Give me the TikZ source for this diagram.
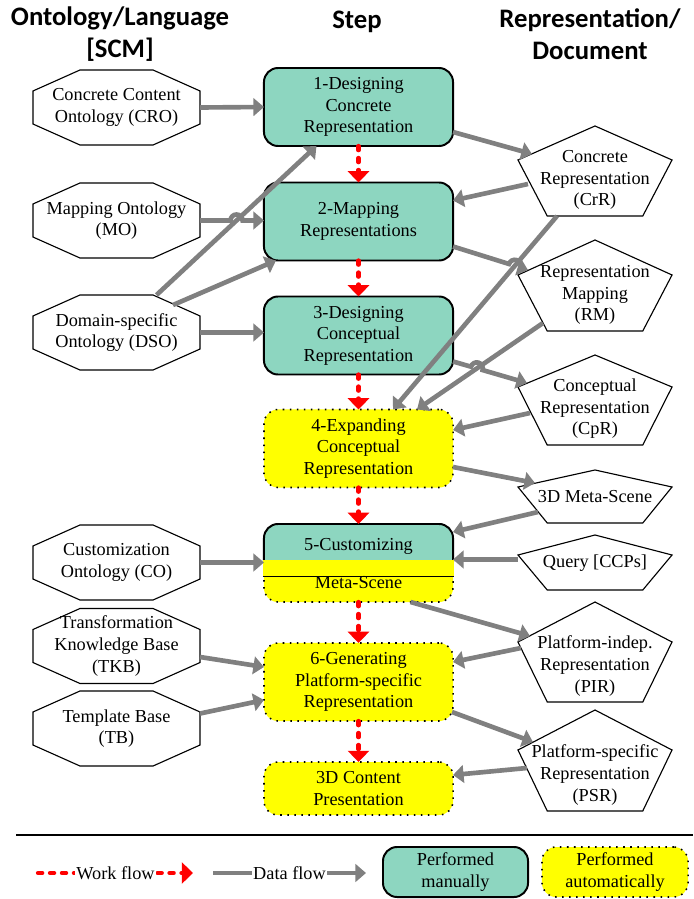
\documentclass[tikz,border=0pt]{standalone}
\usepackage{fontspec}
\setmainfont{Liberation Serif}
\newfontfamily\hdfont{Carlito}
\usepackage{tikz}
\usetikzlibrary{arrows.meta,calc}
\definecolor{mancol}{RGB}{141,214,192}
\definecolor{autcol}{RGB}{255,255,0}
\tikzstyle{hd}=[font=\hdfont\bfseries\fontsize{19}{22.8}\selectfont,align=center]
\tikzstyle{ont}=[rectangle,minimum width=4.175cm,minimum height=1.875cm,inner sep=1pt,outer sep=0pt,align=center]
\tikzstyle{doc}=[rectangle,minimum width=3.85cm,minimum height=1.8cm,inner sep=1pt,outer sep=0pt,align=center]
\tikzstyle{man}=[rectangle,rounded corners=10pt,draw=black,line width=1.4pt,fill=mancol,minimum width=4.725cm,minimum height=1.95cm,inner sep=1pt,outer sep=0pt,align=center]
\tikzstyle{aut}=[man,fill=autcol,line width=1.1pt,dash pattern=on 1.1pt off 3.9pt]
\tikzstyle{dfl}=[draw=gray,line width=3.3pt,-{Triangle[width=12.5pt,length=7.5pt]}]
\tikzstyle{wfl}=[draw=red,line width=3pt,line cap=round,dash pattern=on 3pt off 5.5pt,-{Triangle[width=15pt,length=8pt]}]
% outline of an ontology (octagon) around a node
\newcommand{\octout}[1]{\draw[line width=.8pt] ($(#1.north west)+(47,0)$) -- ($(#1.north east)+(-47,0)$)
  -- ($(#1.north east)+(0,21)$) -- ($(#1.south east)+(0,-21)$) -- ($(#1.south east)+(-47,0)$)
  -- ($(#1.south west)+(47,0)$) -- ($(#1.south west)+(0,-21)$) -- ($(#1.north west)+(0,21)$) -- cycle;}
% outline of a document (pentagon): node, apex rise, corner drop
\newcommand{\pentout}[3]{\draw[line width=.8pt] ($(#1.north)+(0,-#2)$) -- ($(#1.north east)+(0,#3)$)
  -- ($(#1.south east)!.19!(#1.south west)$) -- ($(#1.south west)!.19!(#1.south east)$)
  -- ($(#1.north west)+(0,#3)$) -- cycle;}
\begin{document}
\begin{tikzpicture}[x=0.025cm,y=-0.025cm,font=\fontsize{13}{15.3}\selectfont]
\useasboundingbox (0,0) rectangle (693,899);
\node[hd] (h1) at (120,34) {Ontology/Language\\{[SCM]}};
\node[hd] (h2) at (357,22) {Step};
\node[hd] (h3) at (590,34) {Representation/\\Document};
% ontologies
\node[ont] (cro) at (116.5,107.5) {Concrete Content\\Ontology (CRO)};
\node[ont] (mo) at (116.5,220.5) {Mapping Ontology\\(MO)};
\node[ont] (dso) at (116.5,332.5) {Domain-specific\\Ontology (DSO)};
\node[ont] (co) at (116.5,562.5) {Customization\\Ontology (CO)};
\node[ont] (tkb) at (116.5,646) {Transformation\\Knowledge Base\\(TKB)};
\node[ont] (tb) at (116.5,728.5) {Template Base\\(TB)};
\octout{cro}
\octout{mo}
\octout{dso}
\octout{co}
\octout{tkb}
\octout{tb}
% steps
\node[man] (s1) at (358.5,107) {1-Designing\\Concrete\\Representation};
\node[man] (s2) at (358.5,221.5) {2-Mapping\\Representations};
\node[man] (s3) at (358.5,335.5) {3-Designing\\Conceptual\\Representation};
\node[aut] (s4) at (358.5,448.5) {4-Expanding\\Conceptual\\Representation};
\node[aut] (s5) at (358.5,563) {};
\node[man,minimum height=1.3cm,anchor=north] (s5a) at (s5.north) {\raisebox{0pt}[0pt][0pt]{5-Customizing}};
\fill[autcol] ($(s5.west)+(-1,-3)$) rectangle ($(s5.east)+(1,13)$);
\draw[line width=.5pt] ($(s5.west)+(-1,13)$) -- ($(s5.east)+(1,13)$);
\node (s5b) at ($(s5.south)+(0,-19)$) {Meta-Scene};
\node[aut] (s6) at (358.5,682) {6-Generating\\Platform-specific\\Representation};
\node[aut,minimum height=1.325cm] (s7) at (358.5,788.5) {3D Content\\Presentation};
% documents
\node[doc] (crr) at (595,180) {Concrete\\Representation\\(CrR)};
\node[doc] (rm) at (595,295) {Representation\\Mapping\\(RM)};
\node[doc] (cpr) at (595,409) {Conceptual\\Representation\\(CpR)};
\node[doc,minimum height=1.325cm] (md) at (595,496.5) {3D Meta-Scene};
\node[doc,minimum height=1.325cm] (qry) at (595,563.5) {Query [CCPs]};
\node[doc] (pir) at (595,666) {Platform-indep.\\Representation\\(PIR)};
\node[doc] (psr) at (595,775) {Platform-specific\\Representation\\(PSR)};
\pentout{crr}{18}{16}
\pentout{rm}{19}{16}
\pentout{cpr}{18}{14}
\pentout{md}{0}{17}
\pentout{qry}{2}{18}
\pentout{pir}{28}{12}
\pentout{psr}{29}{11}
% work flow
\draw[wfl] (s1.south) -- (s2.north);
\draw[wfl] (s2.south) -- (s3.north);
\draw[wfl] (s3.south) -- (s4.north);
\draw[wfl] (s4.south) -- (s5.north);
\draw[wfl] (s5.south) -- (s6.north);
\draw[wfl] (s6.south) -- (s7.north);
% data flow
\draw[dfl] (cro.east) -- (s1.west);
\draw[dfl] (mo.east) -- ++(30.5,0) arc[start angle=180,end angle=360,radius=6] -- (s2.west |- mo.east);
\draw[dfl] ($(dso.north)+(40,0)$) -- ($(s1.south)+(-42,0)$);
\draw[dfl] ($(dso.north east)+(-27,10)$) -- ($(s2.south west)+(12,0)$);
\draw[dfl] (dso.east) -- (s3.west |- dso.east);
\draw[dfl] ($(s1.east)+(0,25)$) -- ($(crr.north west)+(14,10)$);
\draw[dfl] ($(crr.west)+(10,4)$) -- ($(s2.east)+(0,-21)$);
\draw[dfl] ($(s2.east)+(0,25)$) -- ($(s2.east)+(56,42.5)$) arc[start angle=197.4,end angle=377.4,radius=6] -- ($(rm.north west)+(10,11)$);
\draw[dfl] ($(crr.south)+(-38,0)$) -- ($(s4.north)+(34.5,0)$);
\draw[dfl] ($(rm.south west)+(25,-8)$) -- ($(s4.north)+(58.5,0)$);
\draw[dfl] ($(s3.east)+(0,26)$) -- ($(s3.east)+(18,31.2)$) arc[start angle=196.2,end angle=376.2,radius=6] -- ($(cpr.north west)+(9,10)$);
\draw[dfl] ($(cpr.west)+(12,4)$) -- ($(s4.east)+(0,-18.5)$);
\draw[dfl] ($(s4.east)+(0,18.5)$) -- ($(md.north west)+(17,13)$);
\draw[dfl] ($(md.west)+(20,15.5)$) -- ($(s5.east)+(0,-31)$);
\draw[dfl] ($(qry.west)+(0,-4)$) -- ($(s5.east)+(0,-3.5)$);
\draw[dfl] (co.east) -- (s5.west |- co.east);
\draw[dfl] ($(s5.south)+(52,0)$) -- ($(pir.north west)+(12,6)$);
\draw[dfl] ($(pir.west)+(3,-18)$) -- ($(s6.east)+(0,-20)$);
\draw[dfl] ($(tkb.east)+(0,11)$) -- ($(s6.west)+(0,-15)$);
\draw[dfl] ($(tb.east)+(0,-15)$) -- ($(s6.west)+(0,18)$);
\draw[dfl] ($(s6.east)+(-1,30)$) -- ($(psr.north west)+(15,3)$);
\draw[dfl] ($(psr.west)+(9,-7)$) -- ($(s7.east)+(0,-13.5)$);
% legend
\draw[line width=1.4pt] (16,835) -- (693,835);
\coordinate (w0) at (38,873);
\coordinate (w1) at (193,873);
\draw[wfl] (w0) -- node[fill=white,inner sep=1pt] (wft) {Work flow} (w1);
\coordinate (d0) at (213,873);
\coordinate (d1) at (366,873);
\draw[dfl] (d0) -- node[fill=white,inner sep=1pt] (dft) {Data flow} (d1);
\node[man,minimum width=3.625cm,minimum height=1.25cm] (lm) at (455.5,872) {Performed\\manually};
\node[aut,minimum width=3.65cm,minimum height=1.25cm] (la) at (615,872) {Performed\\automatically};
\end{tikzpicture}
\end{document}
